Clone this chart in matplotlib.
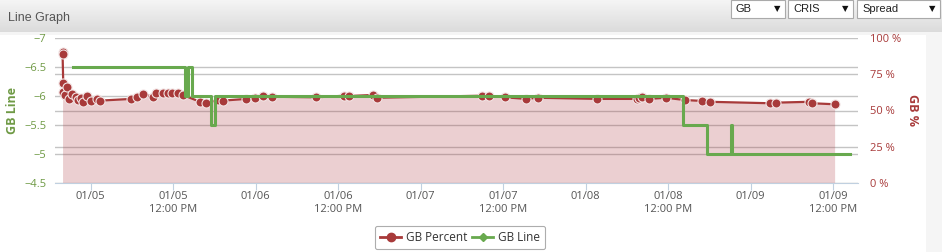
import matplotlib
matplotlib.use("Agg")
import matplotlib.pyplot as plt
import numpy as np
from matplotlib.patches import Rectangle
from matplotlib.lines import Line2D

plt.rcParams['font.family'] = ['Open Sans', 'DejaVu Sans']

# hours since 01/05 00:00
pct_hours = [-4.1, -4.1, -4.0, -4.0, -3.8, -3.4, -3.1, -2.7, -2.2, -1.9, -1.4, -1.2,
             -0.6, 0.1, 0.9, 1.3, 5.9, 6.7, 7.6, 9.0, 9.5, 10.5, 11.2, 11.8, 12.7,
             13.4, 15.9, 16.8, 18.5, 19.2, 22.6, 23.9, 25.0, 26.3, 32.8, 36.9, 37.6,
             41.0, 41.6, 56.9, 57.9, 60.3, 63.3, 65.0, 73.7, 79.5, 79.7, 80.2, 81.2,
             83.6, 86.5, 88.9, 90.1, 98.8, 99.6, 104.5, 104.9, 108.2]
gb_percent = [90.5, 89.0, 68.8, 63.0, 60.5, 66.4, 57.7, 61.5, 59.0, 57.2, 58.5, 56.0,
              60.2, 56.8, 58.0, 56.8, 58.0, 59.5, 61.4, 59.5, 61.8, 61.8, 62.3, 62.3, 61.8,
              60.7, 56.0, 55.4, 57.2, 56.8, 58.0, 58.4, 60.2, 59.5, 59.1, 60.2, 60.0,
              60.7, 58.8, 60.2, 60.2, 59.1, 58.0, 58.8, 58.0, 58.0, 58.4, 59.5, 58.0,
              58.8, 57.2, 56.6, 56.0, 55.0, 55.4, 56.0, 55.0, 54.3]

gb_hours = [-2.6, 13.7, 14.15, 14.7, 17.5, 18.0, 86.2, 89.7, 93.1, 93.3, 110.5]
gb_line = [-6.5, -6.0, -6.5, -6.0, -5.5, -6.0, -5.5, -5.0, -5.5, -5.0, -5.0]

xtick_hours = [0, 12, 24, 36, 48, 60, 72, 84, 96, 108]
xtick_labels = ["01/05", "01/05\n12:00 PM", "01/06", "01/06\n12:00 PM", "01/07",
                "01/07\n12:00 PM", "01/08", "01/08\n12:00 PM", "01/09", "01/09\n12:00 PM"]
pct_ticks = [0, 25, 50, 75, 100]
gb_ticks = [-7, -6.5, -6, -5.5, -5, -4.5]
dropdowns = ["GB", "CRIS", "Spread"]

RED = '#a83a3a'
GREEN = '#68a94e'
W, H = 942, 252

fig = plt.figure(figsize=(W / 100, H / 100), dpi=100)
fig.patch.set_facecolor('white')

# page background on the right / top strip
fig.patches.append(Rectangle((926 / W, 0), 1, 1, transform=fig.transFigure,
                             facecolor='#f5f5f5', edgecolor='none', zorder=-5))
fig.patches.append(Rectangle((0, 1 - 35 / H), 1, 3 / H, transform=fig.transFigure,
                             facecolor='#f5f5f5', edgecolor='none', zorder=-5))

# header bar with gradient
hax = fig.add_axes([0, 1 - 32 / H, 1, 32 / H])
grad = np.linspace(0.96, 0.86, 50).reshape(-1, 1)
hax.imshow(np.dstack([grad, grad, grad]), aspect='auto', extent=[0, 1, 0, 1])
hax.set_xlim(0, 1)
hax.set_ylim(0, 1)
hax.axis('off')
hax.text(8 / W, 0.45, "Line Graph", fontsize=9, color='#555555',
         family=['Liberation Sans', 'DejaVu Sans'], va='center', ha='left')
boxes = [(731, 785), (788, 853), (857, 940)]
for (x0, x1), name in zip(boxes, dropdowns):
    hax.add_patch(Rectangle((x0 / W, 1 - 18 / 32), (x1 - x0) / W, 18 / 32,
                            facecolor='white', edgecolor='#aaaaaa', lw=0.8))
    hax.text((x0 + 5) / W, 1 - 9 / 32, name, fontsize=8, color='#222222',
             family=['Liberation Sans', 'DejaVu Sans'], va='center', ha='left')
    hax.text((x1 - 8) / W, 1 - 9 / 32, "\u25bc", fontsize=6, color='#111111',
             family='DejaVu Sans', va='center', ha='center')

# main chart: percent axis underneath (right side), GB line axis on top (left side)
ax = fig.add_axes([55 / W, 1 - 183 / H, (858 - 55) / W, (183 - 38) / H])
ax2 = ax.twinx()

ax.set_xlim(-5.2, 111.6)
ax.set_ylim(0, 100)
ax.set_yticks(pct_ticks)
ax.set_yticks([20, 40, 60, 80], minor=True)
ax.set_yticklabels([f"{v} %" for v in pct_ticks])
ax.yaxis.tick_right()
ax.yaxis.set_label_position('right')
ax.tick_params(axis='y', which='both', length=0, pad=9, labelsize=8, labelcolor=RED,
               left=False, labelleft=False, right=False, labelright=True)
ax.grid(axis='y', which='both', color='#c4c4c4', lw=1)
ax.set_axisbelow(True)
ax.set_ylabel("GB %", color=RED, fontsize=9, fontweight='bold', rotation=270,
              va='center')
ax.yaxis.set_label_coords(1.068, 0.5)

ax.fill_between(pct_hours, 0, gb_percent, color='#b04048', alpha=0.25, lw=0, zorder=1)
ax.plot(pct_hours, gb_percent, color=RED, lw=1.6, marker='o', ms=6.5,
        markeredgecolor='#f2e4e4', markeredgewidth=0.8, zorder=3)

ax.set_xticks(xtick_hours)
ax.set_xticklabels(xtick_labels)
ax.tick_params(axis='x', length=5, color='#c0d0e0', labelsize=8, labelcolor='#555555',
               pad=1)
for s in ['top', 'left', 'right']:
    ax.spines[s].set_visible(False)
ax.spines['bottom'].set_color('#c0d0e0')

ax2.set_ylim(-4.5, -7)
ax2.set_yticks(gb_ticks)
ax2.set_yticklabels([("%g" % v).replace('-', '\u2212') for v in gb_ticks])
ax2.yaxis.tick_left()
ax2.yaxis.set_label_position('left')
ax2.tick_params(axis='y', length=0, pad=6, labelsize=8, labelcolor='#6f9a45',
                right=False, labelright=False, left=False, labelleft=True)
for s in ['top', 'left', 'right', 'bottom']:
    ax2.spines[s].set_visible(False)
ax2.plot(gb_hours, gb_line, color=GREEN, lw=2.2, drawstyle='steps-post', zorder=4)
ax2.set_ylabel("GB Line", color='#6f9a45', fontsize=9, fontweight='bold', va='center')
ax2.yaxis.set_label_coords(-0.053, 0.5)

handles = [Line2D([], [], color=RED, lw=2, marker='o', ms=6),
           Line2D([], [], color=GREEN, lw=2, marker='D', ms=4)]
leg = fig.legend(handles, ["GB Percent", "GB Line"], loc='center',
                 bbox_to_anchor=(460 / W, 1 - 237.5 / H), ncol=2, fontsize=8.5,
                 frameon=True, handlelength=1.8, handletextpad=0.4, columnspacing=0.4,
                 borderpad=0.45, fancybox=True)
leg.get_frame().set_edgecolor('#999999')
leg.get_frame().set_linewidth(0.8)
for t in leg.get_texts():
    t.set_color('#333333')

fig.savefig("out.png", dpi=100)
